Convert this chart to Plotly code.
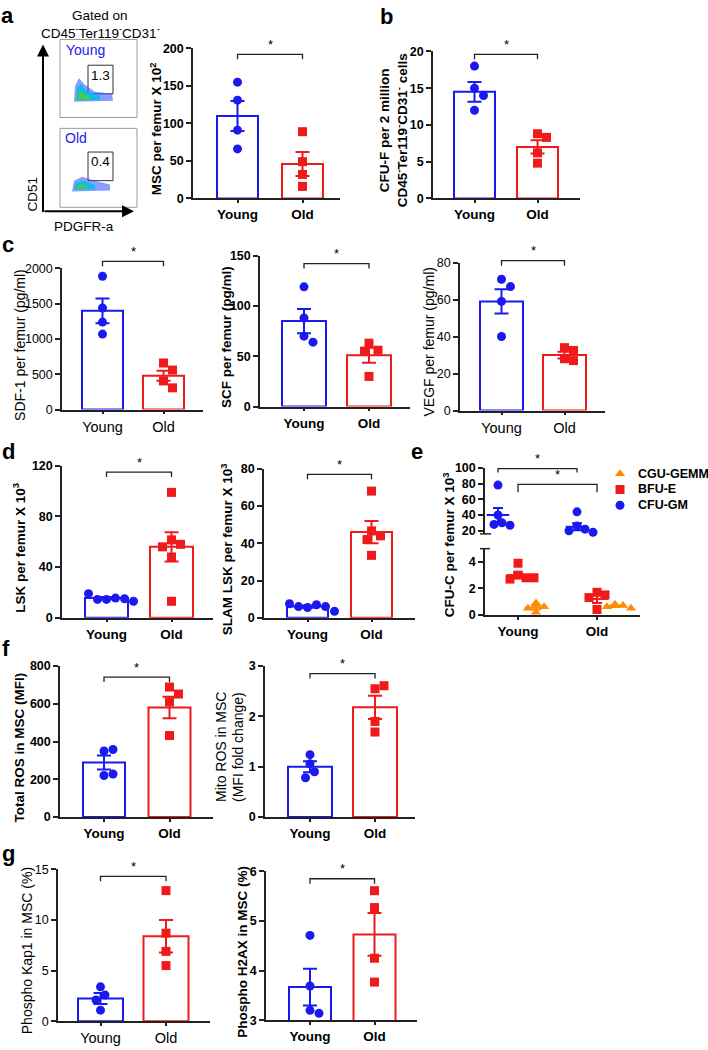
import plotly.graph_objects as go

W, H = 708, 1050
BLUE = "#1a1af0"
RED = "#f01a1a"
ORANGE = "#ff8c00"
AX = "#222222"
FONT = "Liberation Sans, Arial, sans-serif"
GROUPS = ["Young", "Old"]

# ---- values ----
# a  MSC per femur (x10^2)
msc_young = [155, 131, 91, 66]
msc_old = [89, 49, 32, 16]
msc_mean = [110, 46]
msc_sem = [20, 16]

# b  CFU-F per 2 million CD45-Ter119-CD31- cells
cfuf_young = [18, 15, 14, 12]
cfuf_old = [8.8, 8.3, 6.2, 4.8]
cfuf_mean = [14.5, 7.0]
cfuf_sem = [1.35, 0.9]

# c  cytokines per femur (pg/ml)
sdf1_young = [1890, 1440, 1240, 1070]
sdf1_old = [660, 560, 406, 308]
sdf1_mean = [1400, 480]
sdf1_sem = [175, 70]

scf_young = [119, 88, 70, 64]
scf_old = [63, 56, 55, 30]
scf_mean = [85, 51]
scf_sem = [12, 7.5]

vegf_young = [71, 67, 59, 40]
vegf_old = [34, 32.5, 28, 27]
vegf_mean = [59, 30]
vegf_sem = [6.6, 1.8]

# d  LSK / SLAM LSK per femur (x10^3)
lsk_young = [14.5, 15.5, 14.5, 15, 19, 13]
lsk_old = [99, 61.5, 58, 56, 48, 13]
lsk_mean = [15.5, 56]
lsk_sem = [0.8, 11.5]

slam_young = [5.5, 7, 6, 6, 7.5, 3.5]
slam_old = [68, 46.6, 44, 42, 33.5]
slam_mean = [6, 46]
slam_sem = [0.6, 6]

# e  CFU-C per femur (x10^3)
gm_young = [78, 40, 30, 28, 27]
gm_old = [44, 26, 22, 20, 18]
gm_mean = [40, 25]
gm_sem = [9, 4.5]
bfu_young = [3.9, 3.0, 2.8, 2.7, 2.8]
bfu_old = [1.7, 1.5, 1.3, 0.4]
bfu_mean = [3.0, 1.2]
bfu_sem = [0.2, 0.3]
gemm_young = [0.9, 0.6, 0.5, 0.2]
gemm_old = [0.8, 0.7, 0.6, 0.5]
gemm_mean = [0.55, 0.65]
gemm_sem = [0.15, 0.07]

# f  ROS
ros_young = [350, 358, 220, 228]
ros_old = [689, 652, 610, 432]
ros_mean = [289, 580]
ros_sem = [37, 57]

mito_young = [1.24, 1.06, 0.9, 0.78]
mito_old = [2.55, 2.61, 1.9, 1.69]
mito_mean = [1.0, 2.18]
mito_sem = [0.11, 0.23]

# g  DNA damage
kap1_young = [3.4, 2.6, 2.1, 1.1]
kap1_old = [12.9, 8.7, 6.9, 5.5]
kap1_mean = [2.25, 8.4]
kap1_sem = [0.55, 1.6]

h2ax_young = [4.71, 3.69, 3.2, 3.14]
h2ax_old = [5.61, 5.27, 4.25, 3.77]
h2ax_mean = [3.67, 4.73]
h2ax_sem = [0.37, 0.43]


def P(x, y):
    return x / W, 1 - y / H


def swarm(vals, ppu, d=9.0):
    # horizontal pixel offsets so that markers do not sit on top of each other
    placed, out = [], []
    for v in vals:
        y = v * ppu
        off = 0
        for k in range(0, 30):
            cands = [0.0] if k == 0 else [k * d / 2, -k * d / 2]
            hit = None
            for c in cands:
                if all((c - px) ** 2 + (y - py) ** 2 >= d * d for px, py in placed):
                    hit = c
                    break
            if hit is not None:
                off = hit
                break
        placed.append((off, y))
        out.append(off)
    return out


fig = go.Figure()
layout = {}
shapes = []
annos = []


def text(x, y, s, size=13, bold=False, color="black", angle=0, xanchor="center"):
    px, py = P(x, y)
    annos.append(dict(x=px, y=py, xref="paper", yref="paper", text=s, showarrow=False,
                      textangle=angle, xanchor=xanchor, yanchor="middle",
                      font=dict(family=FONT, size=size, color=color,
                                weight="bold" if bold else "normal")))


def bracket(xl, xr, yb, drop=5):
    x0, y0 = P(xl, yb + drop)
    x1, y1 = P(xl, yb)
    x2, _ = P(xr, yb)
    shapes.append(dict(type="path", xref="paper", yref="paper",
                       path=f"M {x0} {y0} L {x1} {y1} L {x2} {y1} L {x2} {y0}",
                       line=dict(color=AX, width=1.3)))
    text((xl + xr) / 2, yb - 10, "*", size=13)


def axis_fonts(bold):
    if bold:
        return dict(family=FONT, size=13.5, weight="bold", color="black"), \
               dict(family=FONT, size=12.5, weight="bold", color="black")
    return dict(family=FONT, size=14.5, color="black"), dict(family=FONT, size=12.5, color="black")


def bar_panel(n, young, old, mean, sem, g, yr, ticks, bold, sig, title, tx, tbold=None):
    ax0, ax1, ytop, ybot, cy, co, bw = g
    sp = co - cy
    ppu = (ybot - ytop) / (yr[1] - yr[0])
    xf, yf = axis_fonts(bold)
    xa, ya = f"x{n}", f"y{n}"
    layout[f"xaxis{n}"] = dict(domain=[ax0 / W, ax1 / W], range=[(ax0 - cy) / sp, (ax1 - cy) / sp],
                               anchor=ya, tickvals=[0, 1], ticktext=GROUPS, showline=True,
                               linecolor=AX, linewidth=1.5, ticks="outside", ticklen=3,
                               tickwidth=1.5, tickcolor=AX, showgrid=False, zeroline=False, tickfont=xf)
    layout[f"yaxis{n}"] = dict(domain=[1 - ybot / H, 1 - ytop / H], range=yr, anchor=xa,
                               tickvals=ticks, showline=True, linecolor=AX, linewidth=1.5,
                               ticks="outside", ticklen=5, tickwidth=1.5, tickcolor=AX,
                               showgrid=False, zeroline=False, tickfont=yf)
    for i, (vals, col, sym) in enumerate([(young, BLUE, "circle"), (old, RED, "square")]):
        fig.add_trace(go.Bar(x=[i], y=[mean[i]], width=bw / sp, xaxis=xa, yaxis=ya,
                             marker=dict(color="white", line=dict(color=col, width=2)),
                             error_y=dict(type="data", array=[sem[i]], color=col, thickness=2, width=7),
                             showlegend=False, hoverinfo="skip"))
        offs = swarm([v - yr[0] for v in vals], ppu)
        fig.add_trace(go.Scatter(x=[i + o / sp for o in offs], y=vals, mode="markers",
                                 marker=dict(symbol=sym, size=9, color=col), cliponaxis=False,
                                 xaxis=xa, yaxis=ya, showlegend=False))
    bracket(cy, co, ybot - (sig - yr[0]) * ppu)
    tb = bold if tbold is None else tbold
    for k, line in enumerate(title):
        text(tx + k * 17 - (len(title) - 1) * 8.5, (ytop + ybot) / 2 + 6, line,
             size=13.5 if tb else 14, bold=tb, angle=-90)


# a
bar_panel(1, msc_young, msc_old, msc_mean, msc_sem, (193, 340, 42, 194, 237.5, 302.5, 41),
          [0, 200], [0, 50, 100, 150, 200], True, 192, ["MSC per femur X 10<sup>2</sup>"], 156)
# b
bar_panel(2, cfuf_young, cfuf_old, cfuf_mean, cfuf_sem, (433, 580, 45, 194, 474.5, 537.5, 41),
          [0, 20], [0, 5, 10, 15, 20], True, 19.6,
          ["CFU-F per 2 million", "CD45<sup>-</sup>Ter119<sup>-</sup>CD31<sup>-</sup> cells"], 393)
# c
bar_panel(3, sdf1_young, sdf1_old, sdf1_mean, sdf1_sem, (62, 203, 265, 408, 102.5, 163.5, 41),
          [0, 2000], [0, 500, 1000, 1500, 2000], False, 2100, ["SDF-1 per femur (pg/ml)"], 20)
bar_panel(4, scf_young, scf_old, scf_mean, scf_sem, (260, 410, 252, 405, 304, 369, 44),
          [0, 150], [0, 50, 100, 150], True, 142, ["SCF per femur (pg/ml)"], 226)
bar_panel(5, vegf_young, vegf_old, vegf_mean, vegf_sem, (460, 605, 259, 409, 501.5, 564.5, 43),
          [0, 80], [0, 20, 40, 60, 80], False, 81, ["VEGF per femur (pg/ml)"], 429)
# d
bar_panel(6, lsk_young, lsk_old, lsk_mean, lsk_sem, (62, 213, 465, 619, 106.5, 171.5, 43),
          [0, 120], [0, 40, 80, 120], True, 115, ["LSK per femur X 10<sup>3</sup>"], 19)
bar_panel(7, slam_young, slam_old, slam_mean, slam_sem, (264, 415, 468, 619, 307.5, 371.5, 41),
          [0, 80], [0, 20, 40, 60, 80], True, 77, ["SLAM LSK per femur X 10<sup>3</sup>"], 227)
# f
bar_panel(8, ros_young, ros_old, ros_mean, ros_sem, (60, 213, 668, 821, 104, 169.5, 42),
          [0, 800], [0, 200, 400, 600, 800], True, 742, ["Total ROS in MSC (MFI)"], 19)
bar_panel(9, mito_young, mito_old, mito_mean, mito_sem, (265, 415, 668, 821, 310, 375, 44),
          [0, 3], [0, 1, 2, 3], True, 2.85, ["Mito ROS in MSC", "(MFI fold change)"], 230, tbold=False)
# g
bar_panel(10, kap1_young, kap1_old, kap1_mean, kap1_sem, (58, 210, 874, 1028, 100.5, 166, 45),
          [0, 15], [0, 5, 10, 15], False, 14.3, ["Phospho Kap1 in MSC (%)"], 27)
bar_panel(11, h2ax_young, h2ax_old, h2ax_mean, h2ax_sem, (266, 417, 876, 1027, 310, 374.5, 42),
          [3, 6], [3, 4, 5, 6], True, 5.85, ["Phospho H2AX in MSC (%)"], 243)

# e  broken axis, CFU-C
e_ax0, e_ax1, e_cy, e_co = 485, 640, 518, 597
e_sp = e_co - e_cy
lo_top, lo_bot, up_top, up_bot = 549, 616, 467, 534
xf, yf = axis_fonts(True)
layout["xaxis12"] = dict(domain=[e_ax0 / W, e_ax1 / W], range=[(e_ax0 - e_cy) / e_sp, (e_ax1 - e_cy) / e_sp],
                         anchor="y12", tickvals=[0, 1], ticktext=GROUPS, showline=True, linecolor=AX,
                         linewidth=1.5, ticks="outside", ticklen=3, tickwidth=1.5, tickcolor=AX,
                         showgrid=False, zeroline=False, tickfont=xf)
yax = dict(showline=True, linecolor=AX, linewidth=1.5, ticks="outside", ticklen=5, tickwidth=1.5,
           tickcolor=AX, showgrid=False, zeroline=False, anchor="x12", tickfont=yf)
layout["yaxis12"] = dict(yax, domain=[1 - lo_bot / H, 1 - lo_top / H], range=[0, 5], tickvals=[0, 2, 4])
layout["yaxis13"] = dict(yax, domain=[1 - up_bot / H, 1 - up_top / H], range=[16, 100],
                         tickvals=[20, 40, 60, 80, 100])
lo_ppu = (lo_bot - lo_top) / 5
up_ppu = (up_bot - up_top) / 84
e_sets = [
    ("CGU-GEMM", gemm_young, gemm_old, gemm_mean, gemm_sem, ORANGE, "triangle-up", 18, "y12", lo_ppu),
    ("BFU-E", bfu_young, bfu_old, bfu_mean, bfu_sem, RED, "square", 0, "y12", lo_ppu),
    ("CFU-GM", gm_young, gm_old, gm_mean, gm_sem, BLUE, "circle", -20, "y13", up_ppu),
]
for name, yv, ov, mn, se, col, sym, dx, ya, ppu in e_sets:
    xs, ys = [], []
    for i, vals in enumerate([yv, ov]):
        for o in swarm(vals, ppu, 8):
            xs.append(i + (dx + o) / e_sp)
        ys += vals
    fig.add_trace(go.Scatter(x=xs, y=ys, mode="markers", name=name,
                             marker=dict(symbol=sym, size=9, color=col), cliponaxis=False,
                             xaxis="x12", yaxis=ya, showlegend=False))
    fig.add_trace(go.Scatter(x=[i + dx / e_sp for i in range(2)], y=mn, mode="markers",
                             marker=dict(symbol="line-ew", size=16, line=dict(color=col, width=2)),
                             error_y=dict(type="data", array=se, color=col, thickness=2, width=5),
                             cliponaxis=False, xaxis="x12", yaxis=ya, showlegend=False))
# axis break marks
for y, x2 in [(up_bot, e_ax0 + 6), (lo_top, e_ax0 + 5)]:
    a0, b0 = P(e_ax0 - 5, y)
    a1, _ = P(x2, y)
    shapes.append(dict(type="line", xref="paper", yref="paper", x0=a0, x1=a1, y0=b0, y1=b0,
                       line=dict(color=AX, width=1.5)))
bracket(e_cy - 20, e_co - 20, up_bot - (99 - 16) * up_ppu, drop=4)
bracket(e_cy, e_co, up_bot - (79 - 16) * up_ppu, drop=8)
text(449, (up_top + lo_bot) / 2 + 4, "CFU-C per femur X 10<sup>3</sup>", size=13.5, bold=True, angle=-90)

# e legend, drawn on a small hidden axis in pixel units
layout["xaxis14"] = dict(domain=[610 / W, 630 / W], range=[610, 630], visible=False, anchor="y14")
layout["yaxis14"] = dict(domain=[1 - 515 / H, 1 - 463 / H], range=[515, 463], visible=False, anchor="x14")
leg_y = [473, 489, 505]
for (name, yv, ov, mn, se, col, sym, *_), ly in zip(e_sets, leg_y):
    fig.add_trace(go.Scatter(x=[620], y=[ly], mode="markers", marker=dict(symbol=sym, size=9, color=col),
                             xaxis="x14", yaxis="y14", showlegend=False, hoverinfo="skip"))
    text(636, ly, name, size=12.5, bold=True, xanchor="left")

# a  flow cytometry sketch
text(100, 9, "Gated on", size=13.5)
text(100, 25, "CD45<sup>-</sup>Ter119<sup>-</sup>CD31<sup>-</sup>", size=13.5)
for top, bot in [(33, 112), (123, 203)]:
    x0, y0 = P(60, top)
    x1, y1 = P(137, bot)
    shapes.append(dict(type="rect", xref="paper", yref="paper", x0=x0, x1=x1, y0=y1, y1=y0,
                       line=dict(color="#999999", width=1)))
for top, num in [(59, "1.3"), (147, "0.4")]:
    x0, y0 = P(88, top)
    x1, y1 = P(113, top + 29)
    shapes.append(dict(type="rect", xref="paper", yref="paper", x0=x0, x1=x1, y0=y1, y1=y0,
                       line=dict(color="#333333", width=1)))
    text(100.5, top + 10, num, size=13.5)
clouds = [
    ([(74, 96), (75, 80), (79, 72), (84, 78), (95, 86), (112, 88), (113, 95)], "rgba(40,80,255,0.55)"),
    ([(76, 95), (77, 82), (81, 78), (86, 85), (100, 90), (100, 94)], "rgba(0,190,235,0.9)"),
    ([(77, 94), (78, 87), (82, 86), (90, 91), (90, 94)], "rgb(70,200,90)"),
    ([(72, 187), (74, 176), (82, 172), (95, 176), (110, 180), (110, 186)], "rgba(40,80,255,0.55)"),
    ([(74, 185), (76, 178), (84, 176), (95, 181), (95, 185)], "rgba(0,190,235,0.9)"),
    ([(76, 184), (78, 180), (85, 180), (88, 184)], "rgb(70,200,90)"),
]
for pts, col in clouds:
    path = "M " + " L ".join(f"{P(x, y)[0]} {P(x, y)[1]}" for x, y in pts) + " Z"
    shapes.append(dict(type="path", xref="paper", yref="paper", path=path,
                       fillcolor=col, line=dict(width=0)))
text(64, 44, "Young", size=14, color=BLUE, xanchor="left")
text(63, 133, "Old", size=14, color=BLUE, xanchor="left")
text(32, 190, "CD51", size=13.5, angle=-90)
text(84, 222, "PDGFR-a", size=13.5)
for hx, hy, ax, ay in [(43, 38, 0, 169), (134, 207, -91, 0)]:
    px, py = P(hx, hy)
    annos.append(dict(x=px, y=py, xref="paper", yref="paper", ax=ax, ay=ay, showarrow=True,
                      arrowhead=2, arrowsize=1.2, arrowwidth=2, arrowcolor="black", text=""))

# panel letters
for s, x, y in [("a", 7, 9), ("b", 386, 10), ("c", 8, 241), ("d", 8, 450),
                ("e", 417, 450), ("f", 6, 650), ("g", 8, 858)]:
    text(x, y, s, size=22, bold=True)

fig.update_layout(layout)
fig.update_layout(width=W, height=H, margin=dict(l=0, r=0, t=0, b=0), barmode="overlay",
                  paper_bgcolor="white", plot_bgcolor="rgba(0,0,0,0)", shapes=shapes, annotations=annos,
                  font=dict(family=FONT, color="black"), showlegend=False)
fig.write_html("out.html", config={"displayModeBar": False},
               post_script="document.body.style.margin='0px';")
